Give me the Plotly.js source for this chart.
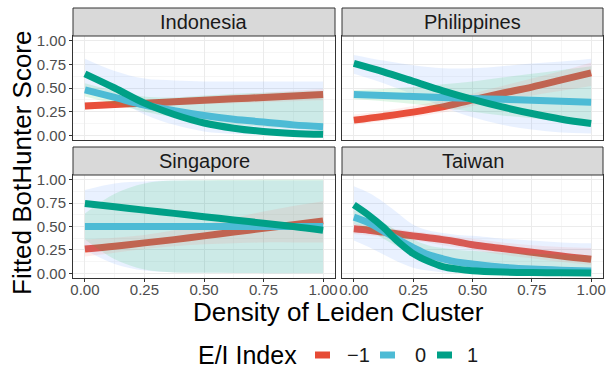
<!DOCTYPE html>
<html>
<head>
<meta charset="utf-8">
<script src="https://cdn.plot.ly/plotly-3.0.1.min.js"></script>
<style>html,body{margin:0;padding:0;background:#fff;}#chart{width:607px;height:371px;}</style>
</head>
<body>
<div id="chart"></div>
<script>
// ---------- data ----------
const density = [0, 0.125, 0.25, 0.375, 0.5, 0.625, 0.75, 0.875, 1];
const taiwDensity = [0, 0.0625, 0.125, 0.1875, 0.25, 0.3125, 0.375, 0.4375, 0.5, 0.625, 0.75, 0.875, 1];
const countries = ['Indonesia', 'Philippines', 'Singapore', 'Taiwan'];
const eiLevels = ['\u22121', '0', '1'];
const xTickVals = [0, 0.25, 0.5, 0.75, 1];
const xTickText = ['0.00', '0.25', '0.50', '0.75', '1.00'];
const yTickVals = [0, 0.25, 0.5, 0.75, 1];
const yTickText = ['0.00', '0.25', '0.50', '0.75', '1.00'];

// Indonesia
const indoNeg   = [0.31, 0.325, 0.34, 0.355, 0.37, 0.385, 0.40, 0.415, 0.43];
const indoNegLo = [0.27, 0.29, 0.31, 0.32, 0.33, 0.34, 0.35, 0.36, 0.37];
const indoNegHi = [0.35, 0.36, 0.37, 0.39, 0.41, 0.43, 0.45, 0.47, 0.49];
const indoZero   = [0.48, 0.40, 0.32, 0.26, 0.21, 0.17, 0.14, 0.11, 0.09];
const indoZeroLo = [0.41, 0.33, 0.25, 0.19, 0.14, 0.11, 0.09, 0.07, 0.05];
const indoZeroHi = [0.55, 0.47, 0.41, 0.40, 0.42, 0.44, 0.45, 0.46, 0.47];
const indoPos   = [0.65, 0.50, 0.34, 0.22, 0.13, 0.075, 0.04, 0.02, 0.01];
const indoPosLo = [0.50, 0.38, 0.22, 0.11, 0.04, 0.015, 0.005, 0.002, 0.001];
const indoPosHi = [0.81, 0.68, 0.60, 0.58, 0.57, 0.57, 0.57, 0.57, 0.57];

// Philippines
const philNeg   = [0.16, 0.20, 0.245, 0.30, 0.375, 0.445, 0.51, 0.585, 0.66];
const philNegLo = [0.11, 0.15, 0.19, 0.24, 0.31, 0.37, 0.42, 0.47, 0.52];
const philNegHi = [0.22, 0.26, 0.31, 0.37, 0.44, 0.52, 0.60, 0.68, 0.77];
const philZero   = [0.43, 0.42, 0.41, 0.40, 0.39, 0.38, 0.37, 0.36, 0.35];
const philZeroLo = [0.38, 0.36, 0.33, 0.29, 0.25, 0.21, 0.18, 0.15, 0.13];
const philZeroHi = [0.48, 0.49, 0.51, 0.54, 0.57, 0.61, 0.65, 0.69, 0.73];
const philPos   = [0.76, 0.67, 0.57, 0.47, 0.38, 0.30, 0.23, 0.17, 0.125];
const philPosLo = [0.65, 0.55, 0.43, 0.30, 0.19, 0.11, 0.06, 0.03, 0.02];
const philPosHi = [0.85, 0.79, 0.74, 0.71, 0.71, 0.73, 0.76, 0.78, 0.81];

// Singapore
const singNeg   = [0.26, 0.29, 0.325, 0.36, 0.40, 0.44, 0.48, 0.52, 0.56];
const singNegLo = [0.18, 0.22, 0.26, 0.29, 0.31, 0.32, 0.33, 0.33, 0.33];
const singNegHi = [0.36, 0.38, 0.41, 0.46, 0.52, 0.59, 0.66, 0.72, 0.77];
const singZero   = [0.50, 0.50, 0.50, 0.50, 0.50, 0.50, 0.50, 0.50, 0.50];
const singZeroLo = [0.36, 0.15, 0.04, 0.01, 0.005, 0.003, 0.002, 0.001, 0.001];
const singZeroHi = [0.64, 0.85, 0.96, 0.99, 0.995, 0.997, 0.998, 0.999, 0.999];
const singPos   = [0.745, 0.71, 0.675, 0.64, 0.605, 0.57, 0.535, 0.50, 0.46];
const singPosLo = [0.25, 0.10, 0.03, 0.01, 0.005, 0.003, 0.002, 0.001, 0.001];
const singPosHi = [0.89, 0.96, 0.98, 0.99, 0.99, 0.99, 0.99, 0.99, 0.99];

// Taiwan (finer density grid)
const taiwNeg   = [0.475, 0.46, 0.44, 0.42, 0.40, 0.38, 0.36, 0.335, 0.305, 0.265, 0.225, 0.185, 0.15];
const taiwNegLo = [0.42, 0.405, 0.39, 0.37, 0.35, 0.33, 0.30, 0.275, 0.25, 0.20, 0.16, 0.12, 0.09];
const taiwNegHi = [0.53, 0.51, 0.49, 0.47, 0.45, 0.43, 0.41, 0.39, 0.37, 0.33, 0.30, 0.28, 0.27];
const taiwZero   = [0.60, 0.54, 0.45, 0.36, 0.275, 0.20, 0.155, 0.12, 0.10, 0.065, 0.045, 0.033, 0.025];
const taiwZeroLo = [0.53, 0.46, 0.37, 0.28, 0.20, 0.14, 0.10, 0.075, 0.06, 0.035, 0.02, 0.015, 0.01];
const taiwZeroHi = [0.67, 0.62, 0.54, 0.45, 0.36, 0.30, 0.27, 0.25, 0.24, 0.22, 0.21, 0.20, 0.19];
const taiwPos   = [0.73, 0.62, 0.49, 0.335, 0.21, 0.13, 0.072, 0.045, 0.028, 0.014, 0.008, 0.005, 0.003];
const taiwPosLo = [0.35, 0.28, 0.20, 0.12, 0.06, 0.03, 0.01, 0.005, 0.002, 0.001, 0.001, 0.001, 0.001];
const taiwPosHi = [0.93, 0.86, 0.76, 0.64, 0.52, 0.46, 0.43, 0.41, 0.40, 0.37, 0.35, 0.33, 0.32];

// ---------- styling ----------
const lineColors = ['#E64B35', '#4DBBD5', '#00A087'];
const fillColors = ['rgba(248,118,109,0.12)', 'rgba(0,186,56,0.12)', 'rgba(97,156,255,0.14)'];

const panelX = [density, density, density, taiwDensity];
const panelSeries = [
  [[indoNeg, indoNegLo, indoNegHi], [indoZero, indoZeroLo, indoZeroHi], [indoPos, indoPosLo, indoPosHi]],
  [[philNeg, philNegLo, philNegHi], [philZero, philZeroLo, philZeroHi], [philPos, philPosLo, philPosHi]],
  [[singNeg, singNegLo, singNegHi], [singZero, singZeroLo, singZeroHi], [singPos, singPosLo, singPosHi]],
  [[taiwNeg, taiwNegLo, taiwNegHi], [taiwZero, taiwZeroLo, taiwZeroHi], [taiwPos, taiwPosLo, taiwPosHi]]
];

const W = 607, H = 371;
const px = v => v / W;
const py = v => 1 - v / H;
// panel pixel boxes [x0, x1, y0(top), y1(bottom)]
const panelBox = [
  [73, 335, 36, 140],
  [342, 603, 36, 140],
  [73, 335, 175, 278],
  [342, 603, 175, 278]
];
const stripH = 28;

const traces = [];
function ribbon(xv, ax, ay, lo, hi, color) {
  traces.push({x: xv, y: lo, xaxis: ax, yaxis: ay, mode: 'lines',
    line: {width: 0, shape: 'spline', smoothing: 1}, hoverinfo: 'skip', showlegend: false});
  traces.push({x: xv, y: hi, xaxis: ax, yaxis: ay, mode: 'lines', fill: 'tonexty',
    fillcolor: color, line: {width: 0, shape: 'spline', smoothing: 1}, hoverinfo: 'skip', showlegend: false});
}
function fitLine(xv, ax, ay, vals, k) {
  traces.push({x: xv, y: vals, xaxis: ax, yaxis: ay, mode: 'lines', name: eiLevels[k],
    line: {color: lineColors[k], width: 7, shape: 'spline', smoothing: 1}, showlegend: false});
}

const layout = {
  width: W, height: H,
  margin: {l: 0, r: 0, t: 0, b: 0},
  paper_bgcolor: '#FFFFFF', plot_bgcolor: '#FFFFFF',
  font: {family: 'Liberation Sans, Arial, sans-serif', color: '#000000'},
  showlegend: false,
  shapes: [], annotations: []
};

panelSeries.forEach((ser, i) => {
  const sfx = i === 0 ? '' : String(i + 1);
  const ax = 'x' + sfx, ay = 'y' + sfx;
  const xv = panelX[i];
  // draw order: line(-1), ribbon(1), ribbon(0), ribbon(-1), line(0), line(1)
  fitLine(xv, ax, ay, ser[0][0], 0);
  ribbon(xv, ax, ay, ser[2][1], ser[2][2], fillColors[2]);
  ribbon(xv, ax, ay, ser[1][1], ser[1][2], fillColors[1]);
  ribbon(xv, ax, ay, ser[0][1], ser[0][2], fillColors[0]);
  fitLine(xv, ax, ay, ser[1][0], 1);
  fitLine(xv, ax, ay, ser[2][0], 2);

  const b = panelBox[i];
  const bottomRow = i >= 2, leftCol = i % 2 === 0;
  layout['xaxis' + sfx] = {
    domain: [px(b[0]), px(b[1])], anchor: ay, range: [-0.05, 1.05],
    tickvals: xTickVals, ticktext: xTickText,
    showgrid: true, gridcolor: '#EBEBEB', gridwidth: 1,
    minor: {dtick: 0.125, tick0: 0, showgrid: true, gridcolor: '#F2F2F2', gridwidth: 0.7},
    showline: true, mirror: true, linecolor: '#333333', linewidth: 1, zeroline: false,
    ticks: bottomRow ? 'outside' : '', ticklen: 3, tickcolor: '#333333', tickwidth: 1,
    ticklabelstandoff: -5,
    showticklabels: bottomRow, tickfont: {size: 15, color: '#4D4D4D'}
  };
  layout['yaxis' + sfx] = {
    domain: [py(b[3]), py(b[2])], anchor: ax, range: [-0.05, 1.05],
    tickvals: yTickVals, ticktext: yTickText,
    showgrid: true, gridcolor: '#EBEBEB', gridwidth: 1,
    minor: {dtick: 0.125, tick0: 0, showgrid: true, gridcolor: '#F2F2F2', gridwidth: 0.7},
    showline: true, mirror: true, linecolor: '#333333', linewidth: 1, zeroline: false,
    ticks: leftCol ? 'outside' : '', ticklen: 3, tickcolor: '#333333', tickwidth: 1,
    showticklabels: leftCol, tickfont: {size: 15, color: '#4D4D4D'}
  };
  // strip
  layout.shapes.push({type: 'rect', xref: 'paper', yref: 'paper',
    x0: px(b[0]), x1: px(b[1]), y0: py(b[2]), y1: py(b[2] - stripH),
    fillcolor: '#D9D9D9', line: {color: '#333333', width: 1}, layer: 'above'});
  layout.annotations.push({xref: 'paper', yref: 'paper', x: px((b[0] + b[1]) / 2),
    y: py(b[2] - stripH / 2), text: countries[i], showarrow: false,
    xanchor: 'center', yanchor: 'middle', font: {size: 20, color: '#1A1A1A'}});
});

// axis titles
layout.annotations.push({xref: 'paper', yref: 'paper', x: px(338), y: py(312),
  text: 'Density of Leiden Cluster', showarrow: false, xanchor: 'center', yanchor: 'middle',
  font: {size: 26, color: '#000000'}});
layout.annotations.push({xref: 'paper', yref: 'paper', x: px(22), y: py(163),
  text: 'Fitted BotHunter Score', showarrow: false, textangle: -90, xanchor: 'center', yanchor: 'middle',
  font: {size: 26, color: '#000000'}});

// legend (drawn manually, ggplot-like)
const legendY = 355;
layout.annotations.push({xref: 'paper', yref: 'paper', x: px(196), y: py(legendY),
  text: 'E/I Index', showarrow: false, xanchor: 'left', yanchor: 'middle',
  font: {size: 25, color: '#000000'}});
const keyX = [315, 380, 437];
const labX = [345, 413, 465];
eiLevels.forEach((lab, k) => {
  layout.shapes.push({type: 'rect', xref: 'paper', yref: 'paper',
    x0: px(keyX[k]), x1: px(keyX[k] + 15), y0: py(legendY + 3.5), y1: py(legendY - 3.5),
    fillcolor: lineColors[k], line: {width: 0}});
  layout.annotations.push({xref: 'paper', yref: 'paper', x: px(labX[k]), y: py(legendY),
    text: lab, showarrow: false, xanchor: 'left', yanchor: 'middle',
    font: {size: 20, color: '#1A1A1A'}});
});

Plotly.newPlot('chart', traces, layout, {staticPlot: true, displayModeBar: false});
</script>
</body>
</html>
